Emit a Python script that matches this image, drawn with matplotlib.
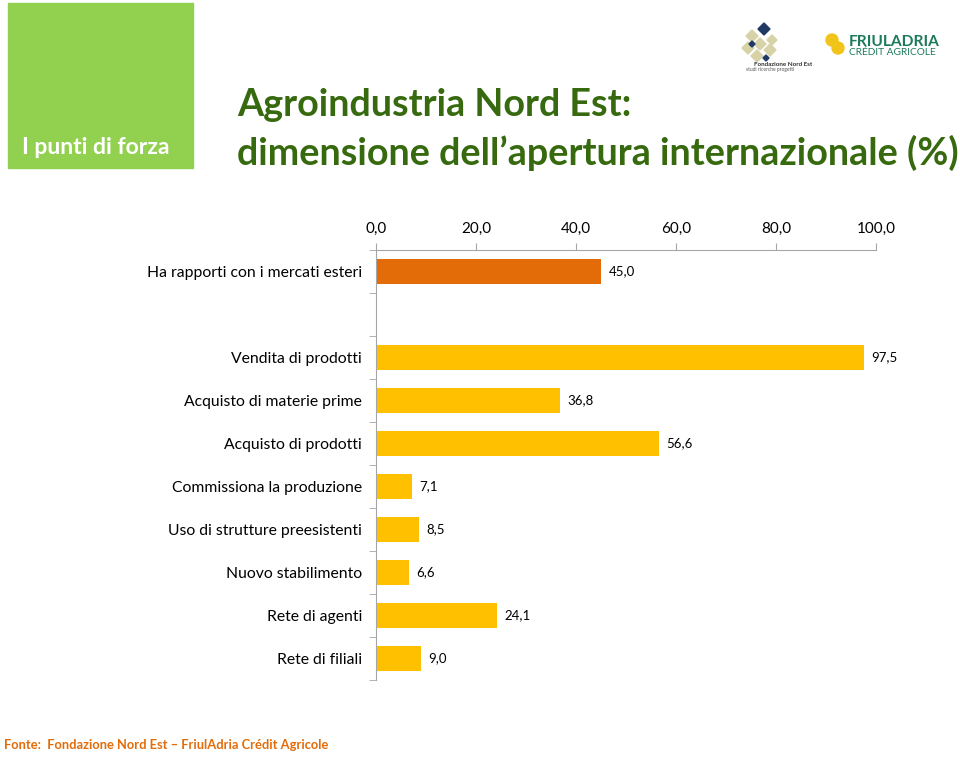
import numpy as np
import matplotlib.pyplot as plt
from matplotlib.patches import Rectangle, RegularPolygon, Circle

plt.rcParams['font.family'] = ['Lato', 'DejaVu Sans']

# Dati
categorie = ['Ha rapporti con i mercati esteri', '', 'Vendita di prodotti',
             'Acquisto di materie prime', 'Acquisto di prodotti',
             'Commissiona la produzione', 'Uso di strutture preesistenti',
             'Nuovo stabilimento', 'Rete di agenti', 'Rete di filiali']
valori = [45.0, np.nan, 97.5, 36.8, 56.6, 7.1, 8.5, 6.6, 24.1, 9.0]
colori = ['#e36c09', 'none'] + ['#ffc000'] * 8
xticks = [0, 20, 40, 60, 80, 100]

fig = plt.figure(figsize=(9.6, 7.58), dpi=100)

# sfondo / decorazioni in coordinate pixel
bg = fig.add_axes([0, 0, 1, 1])
bg.set_xlim(0, 960)
bg.set_ylim(758, 0)
bg.axis('off')
bg.add_patch(Rectangle((8, 3), 185, 165, color='#92d050'))
bg.text(96, 148, 'I punti di forza', color='white', fontsize=16.5, fontweight='bold',
        ha='center', va='center')
bg.text(237, 105, 'Agroindustria Nord Est:', color='#376a0f', fontsize=27.2,
        fontweight='bold', ha='left', va='center')
bg.text(237, 153, 'dimensione dell\u2019apertura internazionale (%)', color='#376a0f',
        fontsize=27.2, fontweight='bold', ha='left', va='center')
bg.text(4, 745, 'Fonte:  Fondazione Nord Est \u2013 FriulAdria Crédit Agricole',
        color='#e36c09', fontsize=9.3, fontweight='bold', ha='left', va='center')

# loghi (approssimati)
for (x, y, c, s) in [(764, 29, '#1f3864', 6), (752, 36, '#d8d2a8', 6), (760, 44, '#d8d2a8', 6),
                     (748, 48, '#d8d2a8', 6), (752, 44, '#1f3864', 3), (770, 50, '#d8d2a8', 6),
                     (757, 56, '#d8d2a8', 6), (766, 58, '#1f3864', 3), (772, 40, '#d8d2a8', 5)]:
    bg.add_patch(RegularPolygon((x, y), 4, radius=s, color=c))
bg.text(783, 64, 'Fondazione Nord Est', fontsize=4.5, fontweight='bold', color='#333333',
        ha='center', va='center')
bg.text(770, 70, 'studi ricerche progetti', fontsize=3.5, color='#555555',
        ha='center', va='center')
bg.add_patch(Circle((832, 40), 6, color='#f0c419'))
bg.add_patch(Circle((838, 48), 6, color='#f0c419'))
bg.text(849, 46, 'FRIULADRIA', fontsize=11.2, fontweight='bold', color='#1d7a5c',
        ha='left', va='baseline')
bg.text(849, 55, 'CRÉDIT AGRICOLE', fontsize=7.3, color='#1d7a5c', ha='left',
        va='baseline')

# grafico
ax = fig.add_axes([376 / 960, 1 - 680 / 758, 500 / 960, 430 / 758])
y = np.arange(len(categorie))
ax.barh(y, valori, height=0.6, color=colori)
for yi, v in zip(y, valori):
    if not np.isnan(v):
        ax.text(v + 1.5, yi, f'{v:.1f}'.replace('.', ','), va='center', ha='left',
                fontsize=9.5)

ax.set_xlim(0, 100)
ax.set_ylim(len(categorie) - 0.5, -0.5)
ax.xaxis.tick_top()
ax.set_xticks(xticks)
ax.set_xticklabels([f'{t:.1f}'.replace('.', ',') for t in xticks], fontsize=11)
ax.tick_params(axis='x', direction='out', length=5, color='#a6a6a6', pad=5)

ax.set_yticks(y)
ax.set_yticklabels(categorie, fontsize=11.3)
ax.tick_params(axis='y', which='major', length=0, pad=10)
ax.set_yticks(np.arange(-0.5, len(categorie), 1.0), minor=True)
ax.tick_params(axis='y', which='minor', direction='out', length=5, color='#a6a6a6')

for s in ['right', 'bottom']:
    ax.spines[s].set_visible(False)
for s in ['top', 'left']:
    ax.spines[s].set_color('#a6a6a6')

fig.savefig('out.png', dpi=100)
